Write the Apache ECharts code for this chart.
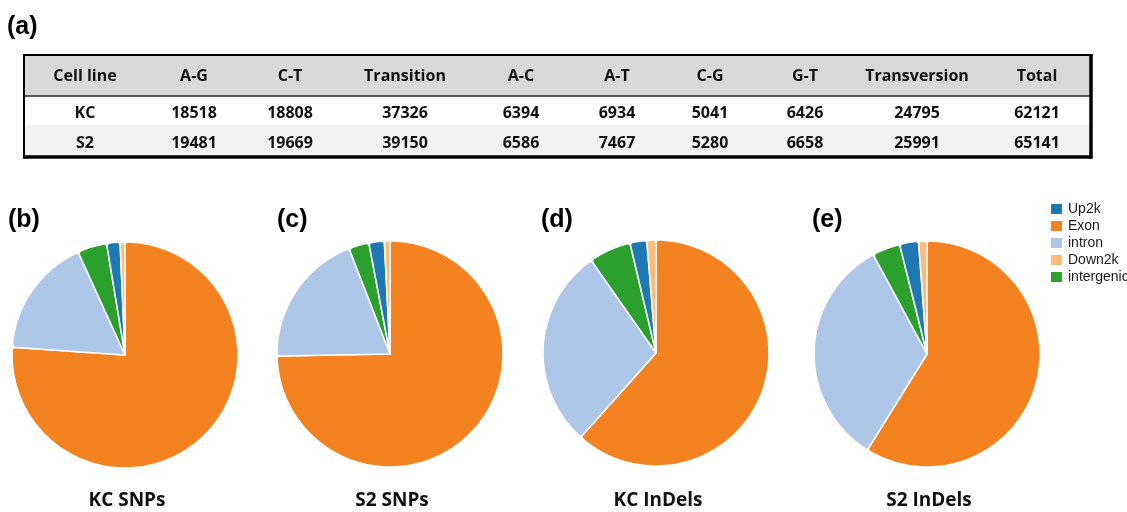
<!DOCTYPE html>
<html>
<head>
<meta charset="utf-8">
<script src="https://cdn.jsdelivr.net/npm/echarts@6/dist/echarts.min.js"></script>
<style>
  html, body { margin: 0; padding: 0; background: #fff; }
  #chart { width: 1127px; height: 512px; }
</style>
</head>
<body>
<div id="chart"></div>
<script>
// ---- table (a): substitution counts per cell line ----
const columns = ['Cell line', 'A-G', 'C-T', 'Transition', 'A-C', 'A-T', 'C-G', 'G-T', 'Transversion', 'Total'];
const cellLines = ['KC', 'S2'];
const kcCounts = [18518, 18808, 37326, 6394, 6934, 5041, 6426, 24795, 62121];
const s2Counts = [19481, 19669, 39150, 6586, 7467, 5280, 6658, 25991, 65141];

// ---- pies (b)-(e): share (%) of variants per genomic region ----
const legendOrder = ['Up2k', 'Exon', 'intron', 'Down2k', 'intergenic'];
const sliceOrder = ['Exon', 'intron', 'intergenic', 'Up2k', 'Down2k'];
const kcSnpShares = [76.1, 17.1, 4.2, 1.9, 0.7];
const s2SnpShares = [74.8, 19.4, 2.9, 2.2, 0.8];
const kcIndelShares = [61.6, 28.7, 6.0, 2.4, 1.3];
const s2IndelShares = [58.9, 33.3, 4.0, 2.7, 1.2];
const panelTitles = ['KC SNPs', 'S2 SNPs', 'KC InDels', 'S2 InDels'];
const panelLetters = ['(b)', '(c)', '(d)', '(e)'];

// ---- layout & style ----
const regionColors = {
  Up2k: '#1f77b4', Exon: '#f58220', intron: '#aec7e8', Down2k: '#ffbb78', intergenic: '#2ca02c'
};
const tableBox = { left: 24, top: 55, width: 1067, height: 102 };
// column centres and row edges, in table units (pixels from the table's top-left corner)
const colCenters = [61, 170, 266, 381, 497, 593, 686, 781, 893, 1013];
const rowEdges = [0, 41, 70, 102];
const rowTextY = [21, 58, 88];
const rowFills = ['#d9d9d9', '#ffffff', '#f2f2f2'];
const pieCenters = [[125, 355], [390, 354], [656, 353], [927, 354]];
const pieRadius = 113;
const letterX = [8, 277, 541, 812];
const tableFont = 'bold 16px "Open Sans"';
const letterFont = 'bold 25px "Liberation Sans"';

const shares = [kcSnpShares, s2SnpShares, kcIndelShares, s2IndelShares];
const rowsText = [
  columns,
  [cellLines[0]].concat(kcCounts.map(String)),
  [cellLines[1]].concat(s2Counts.map(String))
];

const chart = echarts.init(document.getElementById('chart'), null, { renderer: 'canvas' });

const pieSeries = shares.map((vals, i) => ({
  type: 'pie',
  name: panelTitles[i],
  center: pieCenters[i],
  radius: pieRadius,
  startAngle: 90,
  clockwise: true,
  silent: true,
  animation: false,
  label: { show: false },
  labelLine: { show: false },
  emphasis: { disabled: true },
  itemStyle: { borderColor: '#ffffff', borderWidth: 1.5, borderRadius: 3 },
  data: sliceOrder.map((name, j) => ({
    name: name, value: vals[j], itemStyle: { color: regionColors[name] }
  }))
}));

const tableRowsSeries = {
  type: 'custom',
  silent: true,
  animation: false,
  xAxisIndex: 0,
  yAxisIndex: 0,
  data: rowsText.map((r, i) => [i]),
  renderItem: function (params, api) {
    const r = params.dataIndex;
    const p0 = api.coord([0, rowEdges[r]]);
    const p1 = api.coord([tableBox.width, rowEdges[r + 1]]);
    const children = [{
      type: 'rect',
      shape: { x: p0[0], y: p0[1], width: p1[0] - p0[0], height: p1[1] - p0[1] },
      style: { fill: rowFills[r] }
    }];
    rowsText[r].forEach((txt, c) => {
      const p = api.coord([colCenters[c], rowTextY[r]]);
      children.push({
        type: 'text',
        style: {
          text: txt, x: p[0], y: p[1], align: 'center', verticalAlign: 'middle',
          font: tableFont, fill: '#111111'
        }
      });
    });
    return { type: 'group', children: children };
  }
};

const tableFrameSeries = {
  type: 'custom',
  silent: true,
  animation: false,
  xAxisIndex: 0,
  yAxisIndex: 0,
  z: 5,
  data: [[0]],
  renderItem: function (params, api) {
    const tl = api.coord([0, 0]);
    const br = api.coord([tableBox.width, rowEdges[3]]);
    const hy = api.coord([0, rowEdges[1]])[1];
    const line = (x1, y1, x2, y2, w, c) => ({
      type: 'line', shape: { x1: x1, y1: y1, x2: x2, y2: y2 },
      style: { stroke: c || '#000', lineWidth: w }
    });
    return {
      type: 'group',
      children: [
        line(tl[0], hy, br[0], hy, 1.3, '#222'),
        line(tl[0] - 1, tl[1], br[0] + 1.5, tl[1], 2.2),
        line(tl[0], tl[1], tl[0], br[1] + 1.5, 2),
        line(br[0], tl[1] - 1, br[0], br[1] + 1.5, 3.5),
        line(tl[0] - 1, br[1], br[0] + 1.5, br[1], 3.5)
      ]
    };
  }
};

const graphics = [{
  type: 'text', left: 7, top: 15,
  style: { text: '(a)', font: letterFont, fill: '#000' }
}];
panelLetters.forEach((t, i) => {
  graphics.push({
    type: 'text', left: letterX[i], top: 208,
    style: { text: t, font: letterFont, fill: '#000' }
  });
  graphics.push({
    type: 'text', x: pieCenters[i][0] + 2, y: 501,
    style: {
      text: panelTitles[i], font: 'bold 19px "Open Sans"', fill: '#111',
      align: 'center', verticalAlign: 'middle'
    }
  });
});

chart.setOption({
  animation: false,
  backgroundColor: '#ffffff',
  grid: {
    left: tableBox.left, top: tableBox.top, width: tableBox.width, height: tableBox.height,
    show: false
  },
  xAxis: { type: 'value', min: 0, max: tableBox.width, show: false },
  yAxis: { type: 'value', min: 0, max: rowEdges[3], inverse: true, show: false },
  legend: {
    data: legendOrder,
    orient: 'vertical',
    left: 1049,
    top: 202,
    padding: 0,
    itemWidth: 13,
    itemHeight: 12,
    itemGap: 3,
    icon: 'rect',
    selectedMode: false,
    textStyle: { fontFamily: 'Liberation Sans', fontSize: 14, color: '#1a1a1a' }
  },
  graphic: graphics,
  series: [tableRowsSeries, tableFrameSeries].concat(pieSeries)
});
</script>
</body>
</html>
